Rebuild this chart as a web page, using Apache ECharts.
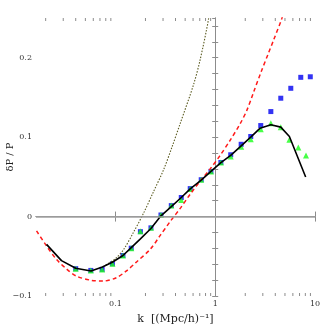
<!DOCTYPE html>
<html>
<head>
<meta charset="utf-8">
<script src="https://cdn.jsdelivr.net/npm/echarts@6/dist/echarts.min.js"></script>
<style>
  html, body { margin: 0; padding: 0; background: #fff; }
  #chart { width: 332px; height: 332px; }
</style>
</head>
<body>
<div id="chart"></div>
<script>
// measured points (blue squares, green triangles)
const kBlue = [0.040, 0.0567, 0.0736, 0.0933, 0.119, 0.144, 0.178, 0.227, 0.286, 0.363, 0.457, 0.562, 0.724, 0.906, 1.14, 1.43, 1.82, 2.27, 2.86, 3.61, 4.54, 5.72, 7.20, 8.97]
const blueVals = [-0.0656, -0.0678, -0.0665, -0.0594, -0.049, -0.0398, -0.019, -0.0142, 0.002, 0.0138, 0.024, 0.0352, 0.0464, 0.0569, 0.0681, 0.0778, 0.091, 0.1008, 0.1146, 0.1322, 0.149, 0.1615, 0.1753, 0.176]

const kGreen = [0.040, 0.0567, 0.0736, 0.0933, 0.119, 0.144, 0.178, 0.227, 0.286, 0.363, 0.457, 0.562, 0.724, 0.906, 1.14, 1.43, 1.82, 2.27, 2.86, 3.61, 4.54, 5.54, 6.8, 8.13]
const greenVals = [-0.0656, -0.0678, -0.0665, -0.0594, -0.049, -0.0398, -0.0184, -0.0142, 0.002, 0.0138, 0.021, 0.0348, 0.0464, 0.0569, 0.0681, 0.0757, 0.088, 0.0975, 0.110, 0.1176, 0.1126, 0.0966, 0.087, 0.077]

// black solid curve
const kBlack = [0.0204, 0.0288, 0.040, 0.057, 0.074, 0.093, 0.119, 0.144, 0.178, 0.227, 0.286, 0.363, 0.457, 0.562, 0.724, 0.906, 1.14, 1.43, 1.82, 2.27, 2.82, 3.61, 4.54, 5.54, 8.06]
const blackVals = [-0.035, -0.0555, -0.065, -0.0685, -0.0635, -0.0575, -0.049, -0.039, -0.028, -0.015, 0.001, 0.0125, 0.024, 0.0348, 0.046, 0.057, 0.068, 0.077, 0.089, 0.100, 0.1113, 0.1155, 0.1126, 0.1008, 0.0498]

// red dashed curve
const kRed = [0.0162, 0.0204, 0.0257, 0.0324, 0.0407, 0.0575, 0.0753, 0.1023, 0.13, 0.16, 0.224, 0.28, 0.355, 0.45, 0.56, 0.71, 0.89, 1.12, 1.41, 1.78, 2.08, 2.43, 2.9, 3.4, 3.84, 4.64, 5.5]
const redVals = [-0.018, -0.037, -0.054, -0.066, -0.075, -0.0803, -0.0812, -0.077, -0.068, -0.058, -0.041, -0.024, -0.006, 0.011, 0.028, 0.045, 0.060, 0.077, 0.096, 0.117, 0.134, 0.157, 0.183, 0.205, 0.222, 0.249, 0.28]

// dotted curve
const kDot = [0.08, 0.1, 0.121, 0.15, 0.192, 0.24, 0.304, 0.37, 0.447, 0.606, 0.708, 0.858, 0.95]
const dotVals = [-0.061, -0.053, -0.0414, -0.021, 0.0046, 0.031, 0.059, 0.088, 0.1176, 0.166, 0.198, 0.249, 0.29]

// axis range and ticks (k in h/Mpc)
const xMin = 0.016, xMax = 10
const yMin = -0.1, yMax = 0.25
const xMajorTicks = [0.1, 1, 10]
const xMinorTicks = [0.02, 0.03, 0.04, 0.05, 0.06, 0.07, 0.08, 0.09, 0.2, 0.3, 0.4, 0.5, 0.6, 0.7, 0.8, 0.9, 2, 3, 4, 5, 6, 7, 8, 9]

// x axis is linear in log10(k)
const lg = v => Math.log10(v)
const zip = (a, b) => a.map((v, i) => [lg(v), b[i]])
const axisGray = '#8c8c8c'
const serif = 'DejaVu Serif'

const xLabel = v => String(Math.round(Math.pow(10, v) * 1000) / 1000)
const yLabel = v => {
  if (Math.abs(v * 10 - Math.round(v * 10)) > 1e-6) return ''
  const r = Math.round(v * 10) / 10
  return r < 0 ? '\u2212' + (-r) : String(r)
}

const xBase = {
  type: 'value', min: lg(xMin), max: lg(xMax),
  axisLine: { lineStyle: { color: axisGray, width: 1 } },
  axisTick: { inside: true, length: 5, customValues: xMajorTicks.map(lg), lineStyle: { color: axisGray } },
  splitLine: { show: false }
}
const yBase = {
  type: 'value', min: yMin, max: yMax, interval: 0.02,
  axisLine: { show: true, lineStyle: { color: axisGray, width: 1 } },
  axisTick: { inside: true, length: 3, lineStyle: { color: axisGray } },
  splitLine: { show: false }
}

const chart = echarts.init(document.getElementById('chart'))
chart.setOption({
  animation: false,
  grid: { left: 36, right: 17, top: 18, bottom: 36, containLabel: false, outerBoundsMode: 'none' },
  xAxis: [
    Object.assign({}, xBase, {
      position: 'bottom',
      name: 'k  [(Mpc/h)\u207B\u00B9]', nameLocation: 'middle', nameGap: 18, nameMoveOverlap: false,
      nameTextStyle: { fontFamily: serif, fontSize: 11, color: '#222' },
      axisLabel: { customValues: xMajorTicks.map(lg), formatter: xLabel, fontFamily: serif, fontSize: 8, color: '#333', margin: 4 }
    }),
    Object.assign({}, xBase, { position: 'top', axisLabel: { show: false } })
  ],
  yAxis: [
    Object.assign({}, yBase, {
      position: 'left',
      name: '\u03B4P / P', nameLocation: 'middle', nameGap: 21, nameMoveOverlap: false,
      nameTextStyle: { fontFamily: serif, fontSize: 10, color: '#222' },
      axisLabel: { formatter: yLabel, fontFamily: serif, fontSize: 8, color: '#333', margin: 4, showMaxLabel: false }
    }),
    Object.assign({}, yBase, { position: 'right', axisLabel: { show: false } })
  ],
  series: [
    {
      type: 'custom', xAxisIndex: 0, yAxisIndex: 0, silent: true,
      data: xMinorTicks.map(v => [lg(v), yMin]),
      renderItem: (params, api) => {
        const v = api.value(0)
        const b = api.coord([v, yMin])
        const t = api.coord([v, yMax])
        const st = { stroke: axisGray, lineWidth: 1 }
        return {
          type: 'group',
          children: [
            { type: 'line', shape: { x1: b[0], y1: b[1], x2: b[0], y2: b[1] - 3 }, style: st },
            { type: 'line', shape: { x1: t[0], y1: t[1], x2: t[0], y2: t[1] + 3 }, style: st }
          ]
        }
      }
    },
    {
      type: 'line', data: zip(kRed, redVals), smooth: 0.3, showSymbol: false,
      lineStyle: { color: '#ff1a1a', width: 1.5, type: [4, 3] },
      markLine: {
        silent: true, symbol: 'none', label: { show: false },
        lineStyle: { color: '#a0a0a0', width: 1.5, type: 'solid' },
        data: [{ yAxis: 0 }]
      }
    },
    {
      type: 'line', data: zip(kDot, dotVals), smooth: 0.3, showSymbol: false,
      lineStyle: { color: '#5c5c22', width: 1.1, type: [1.5, 1.5] }
    },
    {
      type: 'line', data: zip(kBlack, blackVals), showSymbol: false,
      lineStyle: { color: '#000', width: 1.6 }
    },
    {
      type: 'scatter', data: zip(kBlue, blueVals), symbol: 'rect', symbolSize: 5,
      itemStyle: { color: '#0000f0' }
    },
    {
      type: 'scatter', data: zip(kGreen, greenVals), symbol: 'triangle', symbolSize: 6,
      itemStyle: { color: '#19ff19' }
    }
  ]
})
</script>
</body>
</html>
